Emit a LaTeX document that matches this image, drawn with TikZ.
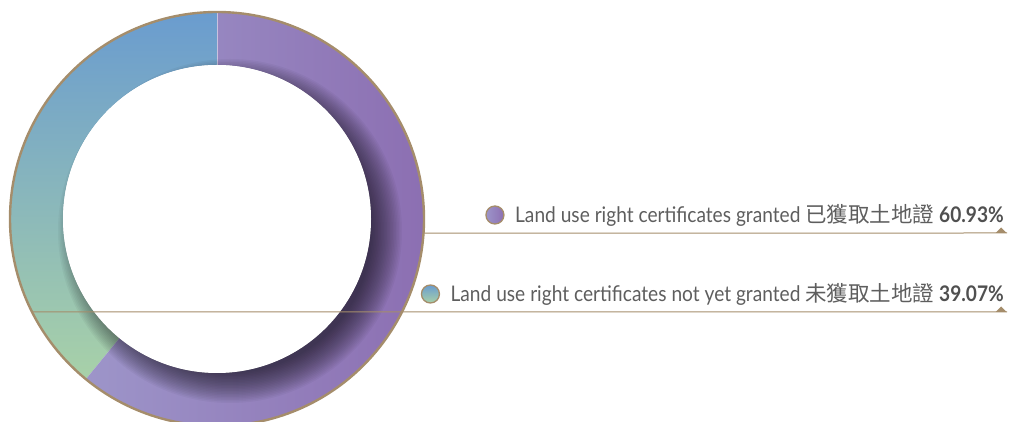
\documentclass[tikz,border=0pt]{standalone}
\usepackage{fontspec}
\setmainfont{Lato}[FakeStretch=0.89]
\newfontfamily\cjk{Noto Sans CJK TC}
\usetikzlibrary{calc,positioning}
\definecolor{rimtan}{HTML}{A58D6B}
\definecolor{grantpurple}{HTML}{8C6FB2}
\definecolor{grantlilac}{HTML}{9D95C9}
\definecolor{pendblue}{HTML}{6A9CCF}
\definecolor{pendgreen}{HTML}{A8D1A8}
\definecolor{keygrey}{HTML}{5E5E5E}
\definecolor{figgrey}{HTML}{505050}
\tikzset{
  ringline/.style={rimtan, line width=1pt},
  keydot/.style={circle, draw=rimtan, line width=1.3pt, minimum size=18pt, inner sep=0pt},
  keytext/.style={text=keygrey, font=\fontsize{21.5}{25}\selectfont, inner sep=0pt},
  keytip/.style={fill=rimtan, draw=none}
}

\begin{document}
\begin{tikzpicture}[x=1pt, y=1pt]
			%%%%% START %%%%%
			\useasboundingbox (0,0) rectangle (1009,422);
			\coordinate (c) at (217,203);
			
			\begin{scope}
			\clip (0,0) rectangle (1009,422);
			% not yet granted, 39.07%
			\shade[top color=pendblue, bottom color=pendgreen, shift={(c)}]
				(90:207) arc[start angle=90, end angle=230.7, radius=207]
				-- (230.7:154) arc[start angle=230.7, end angle=90, radius=154] -- cycle;
			% granted, 60.93%
			\shade[left color=grantlilac, right color=grantpurple, shift={(c)}]
				(90:207) arc[start angle=90, end angle=-129.3, radius=207]
				-- (-129.3:154) arc[start angle=-129.3, end angle=90, radius=154] -- cycle;
			\draw[white, opacity=0.5, line width=0.8pt, shift={(c)}] (90:154) -- (90:207);
			
			% inner shadow
			\begin{scope}
			\clip (c) circle (205);
			\foreach \r in {142,143.5,...,172}
				\fill[black!90!grantpurple, opacity=0.04] ($(c)+(13,-12)$) circle (\r);
			\end{scope}
			\fill[white] (c) circle (154);
			\draw[rimtan, line width=2.4pt] (c) circle (207);
			
			\coordinate (grantedrim) at ($(c)+(-3.9:207)$);
			\coordinate (pendrim) at ($(c)+(206.7:207)$);
			\coordinate (grantedend) at (1007,189);
			\coordinate (pendend) at (1007,110);
			\draw[ringline] (grantedrim) -- (grantedend);
			\draw[ringline] (pendrim) -- (pendend);
			\end{scope}
			
			\fill[keytip] (995.5,189) -- (1001,194.5) -- (1006.5,189) -- cycle;
			\fill[keytip] (995.5,110) -- (1001,115.5) -- (1006.5,110) -- cycle;
			
			\node[keytext, anchor=base east] (grantedtxt) at (1004,199) {Land use right certificates granted {\cjk 已獲取土地證} \textbf{\color{figgrey}60.93\%}};
			\node[keytext, anchor=base east] (pendtxt) at (1004,120) {Land use right certificates not yet granted {\cjk 未獲取土地證} \textbf{\color{figgrey}39.07\%}};
			
			\node[keydot, left color=grantlilac, right color=grantpurple] (granteddot) at ($(grantedtxt.base west)+(-20,8)$) {};
			\node[keydot, top color=pendblue, bottom color=pendgreen] (penddot) at ($(pendtxt.base west)+(-20,8)$) {};
			%%%%% END %%%%%
\end{tikzpicture}
\end{document}
